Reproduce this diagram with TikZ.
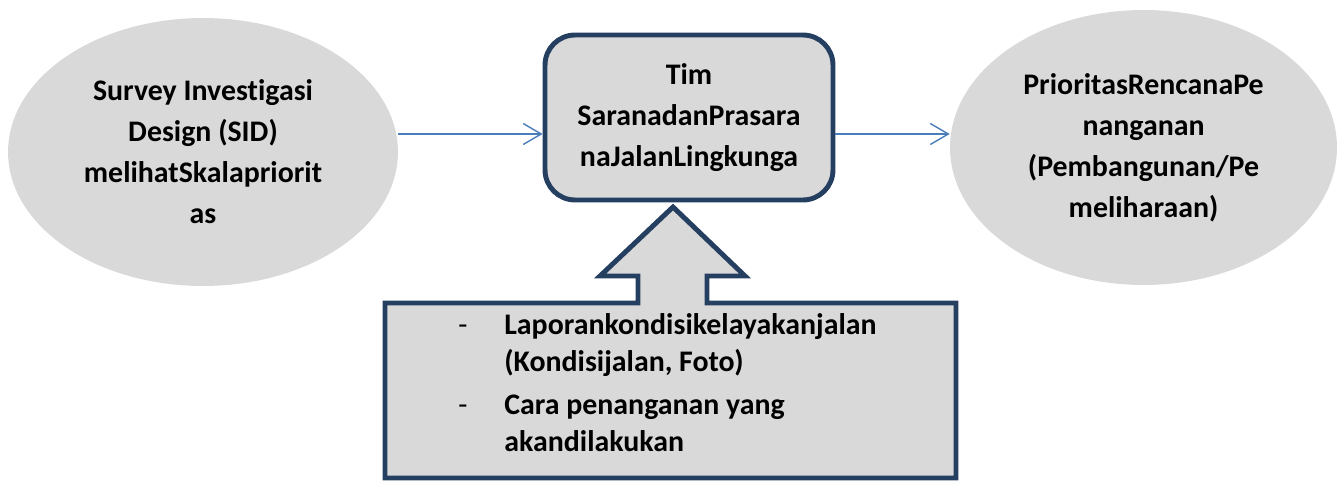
\documentclass[tikz,border=0pt]{standalone}
\usepackage{fontspec}
\setmainfont{Carlito}[Ligatures=NoCommon]
\usetikzlibrary{shapes.geometric,arrows.meta}

\definecolor{boxgray}{HTML}{D9D9D9}
\definecolor{boxline}{HTML}{243F60}
\definecolor{linkblue}{HTML}{4A7EBB}

\begin{document}
\begin{tikzpicture}[x=0.02cm,y=-0.02cm,
	txt/.style={font=\bfseries\fontsize{17}{23.3}\selectfont,align=center},
	oval/.style={ellipse,fill=boxgray,inner sep=0pt,txt},
	timbox/.style={rectangle,rounded corners=0.6cm,draw=boxline,line width=2.8pt,fill=boxgray,txt},
	link/.style={draw=linkblue,line width=0.8pt,-{Straight Barb[length=0.36cm,width=0.42cm,line width=0.8pt]}}]
	\useasboundingbox (0,0) rectangle (1338,480);
	\pgfmathsetmacro\BL{385}
	\pgfmathsetmacro\BR{956}
	\pgfmathsetmacro\BT{303}
	\pgfmathsetmacro\BB{478}
	\pgfmathsetmacro\HB{276}
	\coordinate (lvl) at (0,134);
	\coordinate (tip) at (673,207);
	
	\draw node[oval,minimum width=7.8cm,minimum height=5.36cm] (sid) at (203,152) {Survey Investigasi\\Design (SID)\\melihatSkalapriorit\\as};
	\draw node[oval,minimum width=7.74cm,minimum height=5.5cm] (prio) at (1143.5,147.5) {PrioritasRencanaPe\\nanganan\\(Pembangunan/Pe\\meliharaan)};
	\draw node[timbox,minimum width=5.76cm,minimum height=3.3cm] (tim) at (689,117.5) {Tim\\SaranadanPrasara\\naJalanLingkunga};
	
	\draw[link] (sid.east |- lvl) -- (tim.west |- lvl);
	\draw[link] (tim.east |- lvl) -- (prio.west |- lvl);
	
	\draw[draw=boxline,fill=boxgray,line width=2.8pt] (\BL,\BB) -- (\BL,\BT) -- (638,\BT) -- (638,\HB) -- (600,\HB) -- (tip) -- (745,\HB) -- (707,\HB) -- (707,\BT) -- (\BR,\BT) -- (\BR,\BB) -- cycle;
	\draw node[anchor=base west,inner sep=0pt,font=\bfseries\fontsize{17}{21.3}\selectfont] (info) at (458,334) {%
		\begin{tabular}[t]{@{}p{0.92cm}@{}l@{}}
			\mdseries - & Laporankondisikelayakanjalan\\
			& (Kondisijalan, Foto)\\[0.11cm]
			\mdseries - & Cara penanganan yang\\
			& akandilakukan
		\end{tabular}};
\end{tikzpicture}
\end{document}
